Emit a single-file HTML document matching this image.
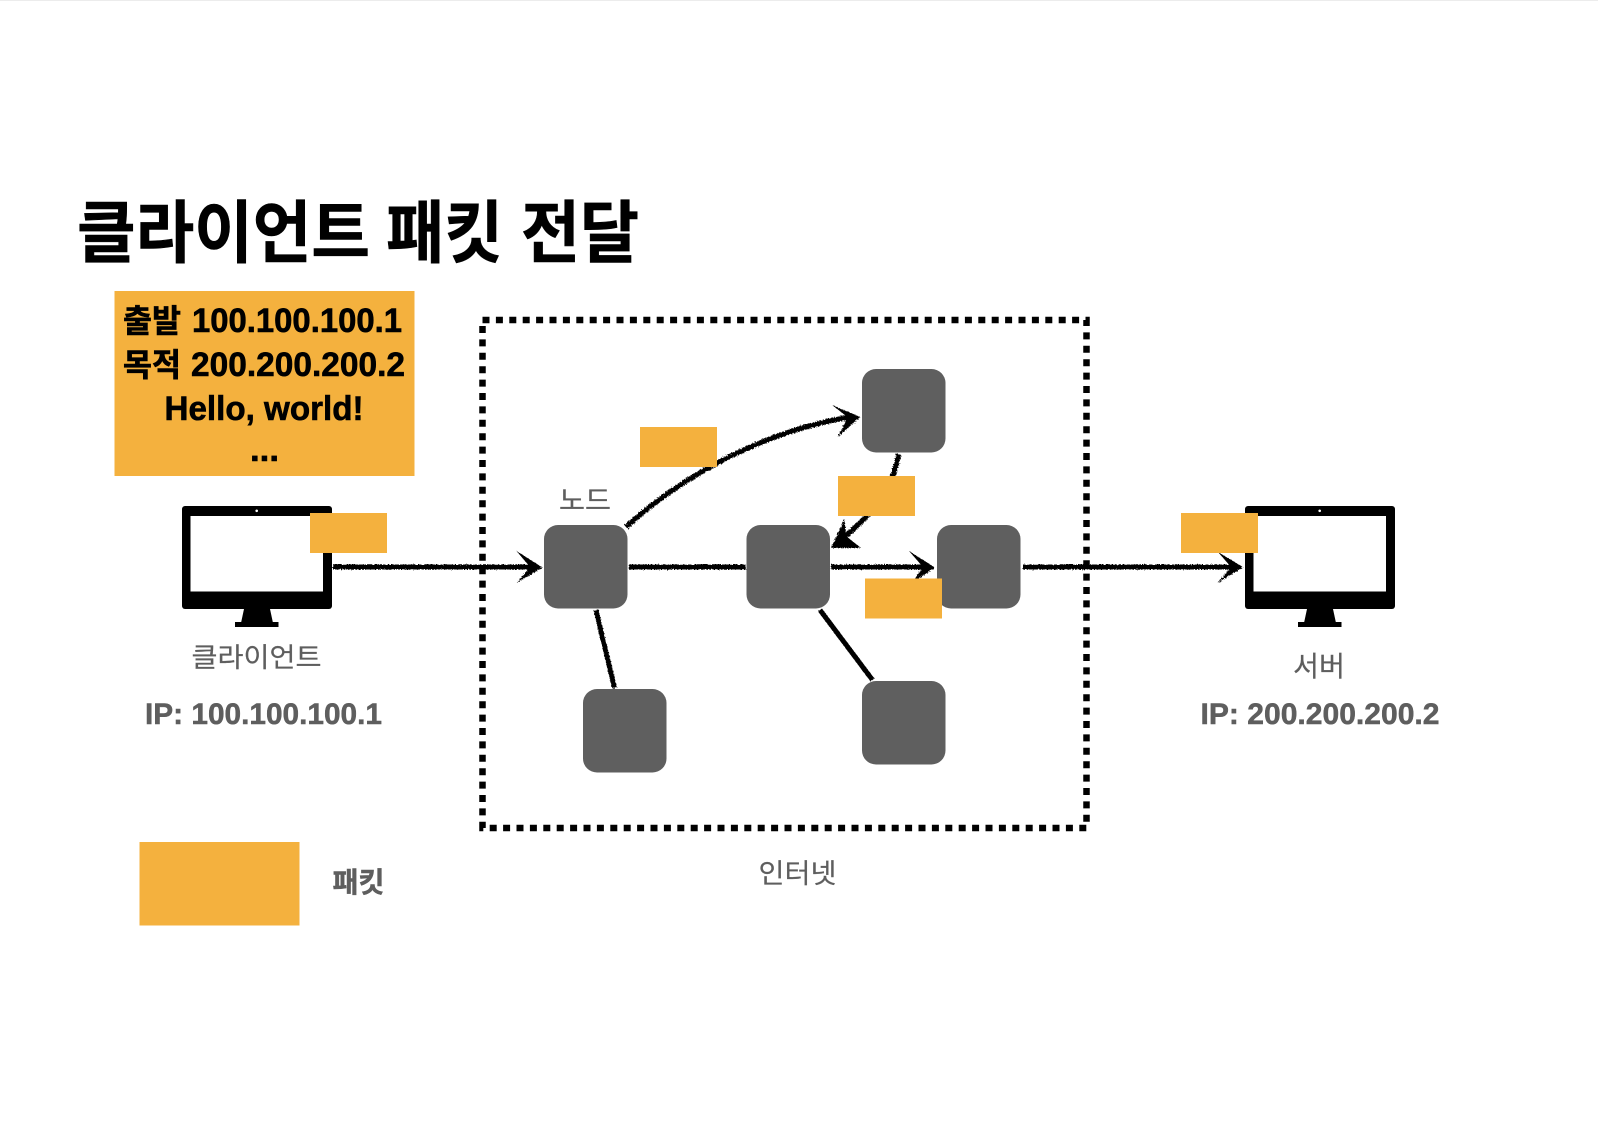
<!DOCTYPE html>
<html lang="ko">
<head>
<meta charset="utf-8">
<title>클라이언트 패킷 전달</title>
<style>
html,body{margin:0;padding:0;background:#fff;width:1598px;height:1130px;overflow:hidden}
svg{display:block}
text{font-family:"Liberation Sans","Noto Sans CJK KR",sans-serif}
.b{font-weight:700;fill:#000;stroke:#000;stroke-width:.6}
.g{fill:#5e5e5e;stroke:#5e5e5e;stroke-width:.2}
.gb{fill:#5e5e5e;font-weight:700;stroke:#5e5e5e;stroke-width:.5}
.n{fill:#5f5f5f}
.o{fill:#f4b13e}
.l{stroke:#000;fill:none;stroke-width:5;stroke-linecap:butt}
</style>
</head>
<body>
<svg width="1598" height="1130" viewBox="0 0 1598 1130" xmlns="http://www.w3.org/2000/svg">
<defs>
<filter id="r" x="-5%" y="-5%" width="110%" height="110%" filterUnits="objectBoundingBox">
<feTurbulence type="fractalNoise" baseFrequency="0.7" numOctaves="2" seed="3"/>
<feDisplacementMap in="SourceGraphic" scale="3"/>
</filter>
</defs>
<rect x="0" y="0" width="1598" height="1" fill="#ececec"/>

<!-- title -->
<text class="b" x="77" y="257" font-size="68" textLength="293" lengthAdjust="spacingAndGlyphs">클라이언트</text>
<text class="b" x="386" y="257" font-size="68" textLength="117" lengthAdjust="spacingAndGlyphs">패킷</text>
<text class="b" x="521" y="257" font-size="68" textLength="118" lengthAdjust="spacingAndGlyphs">전달</text>

<!-- packet detail -->
<rect class="o" x="114.5" y="291" width="300" height="185"/>
<text class="b" x="123" y="332" font-size="32" textLength="58" lengthAdjust="spacingAndGlyphs">출발</text>
<text class="b" x="192" y="332" font-size="34" textLength="210" lengthAdjust="spacingAndGlyphs">100.100.100.1</text>
<text class="b" x="123" y="376" font-size="32" textLength="58" lengthAdjust="spacingAndGlyphs">목적</text>
<text class="b" x="191" y="376" font-size="34" textLength="214" lengthAdjust="spacingAndGlyphs">200.200.200.2</text>
<text class="b" x="164.5" y="420" font-size="34" textLength="199" lengthAdjust="spacingAndGlyphs">Hello, world!</text>
<text class="b" x="250" y="461" font-size="34" textLength="29" lengthAdjust="spacingAndGlyphs">...</text>

<!-- internet boundary -->
<rect x="482.5" y="320" width="604" height="508" fill="none" stroke="#000" stroke-width="6.5" stroke-dasharray="7 6.4"/>

<!-- client monitor -->
<rect x="182" y="506" width="150" height="103" rx="3" fill="#000"/>
<rect x="190.5" y="516" width="132.5" height="75.5" fill="#fff"/>
<circle cx="256.7" cy="510.8" r="1.3" fill="#fff"/>
<polygon points="244,609 270,609 273,623 241,623" fill="#000"/>
<rect x="235" y="622" width="43.5" height="5" fill="#000"/>

<!-- server monitor -->
<rect x="1245" y="506" width="150" height="103" rx="3" fill="#000"/>
<rect x="1253.5" y="516" width="132.5" height="75.5" fill="#fff"/>
<circle cx="1319.7" cy="510.8" r="1.3" fill="#fff"/>
<polygon points="1307,609 1333,609 1336,623 1304,623" fill="#000"/>
<rect x="1298" y="622" width="43.5" height="5" fill="#000"/>

<!-- connectors -->
<g filter="url(#r)">
<path class="l" d="M333 567H532"/>
<polygon points="542.5,567.5 516.5,551 530,567 516.5,583"/>
<path class="l" d="M629 567H746"/>
<path class="l" d="M831 567H925"/>
<polygon points="935,567.5 909,551 923,567 912,583"/>
<path class="l" d="M1023 567H1233"/>
<polygon points="1243,567 1218,552 1231,567 1218,583"/>
<path class="l" d="M626 527C680 478 760 432 850 417"/>
<polygon points="860.5,417 832,405 848,417.5 837.5,437"/>
<path class="l" d="M898.5 454C895 478 880 510 838 542"/>
<polygon points="831,548 844.5,519 846,536 861,548"/>
<path class="l" d="M596 610L614.5 688"/>
<path class="l" d="M820 610L872.5 680"/>
</g>

<!-- nodes -->
<rect class="n" x="544" y="525" width="83.5" height="83.5" rx="14"/>
<rect class="n" x="746.5" y="525" width="83.5" height="83.5" rx="14"/>
<rect class="n" x="937" y="525" width="83.5" height="83.5" rx="14"/>
<rect class="n" x="862" y="369" width="83.5" height="83.5" rx="14"/>
<rect class="n" x="583" y="689" width="83.5" height="83.5" rx="14"/>
<rect class="n" x="862" y="681" width="83.5" height="83.5" rx="14"/>

<!-- packets -->
<rect class="o" x="310" y="513" width="77" height="40"/>
<rect class="o" x="640" y="427" width="77" height="40"/>
<rect class="o" x="838" y="476" width="77" height="40"/>
<rect class="o" x="865" y="578.5" width="77" height="40"/>
<rect class="o" x="1181" y="513" width="77" height="40"/>
<rect class="o" x="139.5" y="842" width="160" height="83.5"/>

<!-- labels -->
<text class="g" x="191.5" y="667" font-size="27" textLength="130" lengthAdjust="spacingAndGlyphs">클라이언트</text>
<text class="gb" x="145" y="724" font-size="30" textLength="237" lengthAdjust="spacingAndGlyphs">IP: 100.100.100.1</text>
<text class="g" x="559" y="510" font-size="27" textLength="52" lengthAdjust="spacingAndGlyphs">노드</text>
<text class="g" x="1293" y="676" font-size="28" textLength="52" lengthAdjust="spacingAndGlyphs">서버</text>
<text class="gb" x="1200.5" y="724" font-size="30" textLength="239" lengthAdjust="spacingAndGlyphs">IP: 200.200.200.2</text>
<text class="g" x="758.5" y="883" font-size="27" textLength="78" lengthAdjust="spacingAndGlyphs">인터넷</text>
<text class="gb" x="332.5" y="892" font-size="28" textLength="52" lengthAdjust="spacingAndGlyphs">패킷</text>
</svg>
</body>
</html>
